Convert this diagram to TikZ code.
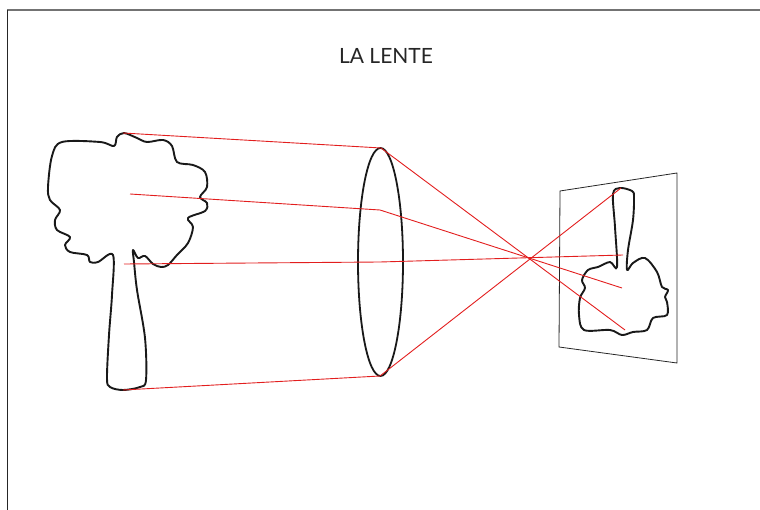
\documentclass[tikz,border=0pt]{standalone}
\usepackage{fontspec}
\setmainfont{Lato}
\definecolor{rayRed}{RGB}{226,30,30}
\tikzstyle{outline} = [line width=1.9pt, black!90, line join=round]
\tikzstyle{lensLine} = [line width=1.8pt, black!90]
\tikzstyle{rayLine} = [line width=0.9pt, rayRed]
\tikzstyle{screenLine} = [line width=0.8pt, black!85]
\tikzstyle{frameLine} = [line width=1.2pt]

\begin{document}
\begin{tikzpicture}[x=1pt, y=-1pt]
  \useasboundingbox (0,0) rectangle (760,510);

  % frame edges
  \draw [frameLine, black!55] (7,10) -- (760,10);
  \draw [frameLine, black!85] (7.5,10) -- (7.5,510);

  \node (title) at (386,56) {\fontsize{21}{24}\selectfont\color{black!85}LA LENTE};

  % object: the tree
  \draw [outline] plot [smooth cycle, tension=0.55] coordinates {
    (113,255) (112,295) (109,335) (107,378) (110,387) (123,390) (140,387)
    (146,380) (145,338) (137,290) (134,262) (133,250) (138,258) (145,256)
    (153,264) (161,267) (168,265) (177,255) (188,243) (193,227) (188,218)
    (205,211) (207,203) (200,197) (207,187) (205,172) (193,165) (177,162)
    (172,146) (163,140) (147,142) (137,138) (124,133) (117,137) (114,146)
    (100,142) (62,142) (52,156) (48,187) (50,200) (60,210) (55,220)
    (57,230) (70,237) (65,245) (70,252) (87,255) (90,262) (98,262)};

  % lens
  \draw [lensLine] (380.5,262) ellipse [x radius=22.5pt, y radius=114pt];

  % screen
  \draw [screenLine] (560,191) -- (677,173) -- (677,363) -- (559,347) -- cycle;

  % image: the upside-down tree
  \draw [outline] plot [smooth cycle, tension=0.55] coordinates {
    (617,267) (615,227) (613,194) (620,188) (632,191) (634,197) (633,220)
    (628,250) (627,270) (633,263) (645,258) (657,272) (662,287) (668,290)
    (665,297) (667,302) (667,315) (653,318) (647,330) (633,332) (622,335)
    (610,330) (584,330) (579,315) (580,298) (585,288) (582,280) (588,270)
    (598,267) (610,262)};

  % ray end points
  \coordinate (tTop) at (123,133);
  \coordinate (tMid) at (130,194);
  \coordinate (tTrunk) at (124,264);
  \coordinate (tBase) at (123,390);
  \coordinate (lTop) at (381,148);
  \coordinate (lMid) at (380,210);
  \coordinate (lAxis) at (380,262);
  \coordinate (lBot) at (380,376);
  \coordinate (iBase) at (625,330);
  \coordinate (iMid) at (622,288);
  \coordinate (iTrunk) at (623,255);
  \coordinate (iTop) at (621,188);

  \foreach \a/\b/\c in {tTop/lTop/iBase, tMid/lMid/iMid, tTrunk/lAxis/iTrunk, tBase/lBot/iTop}
    \draw [rayLine] (\a) -- (\b) -- (\c);

\end{tikzpicture}
\end{document}
